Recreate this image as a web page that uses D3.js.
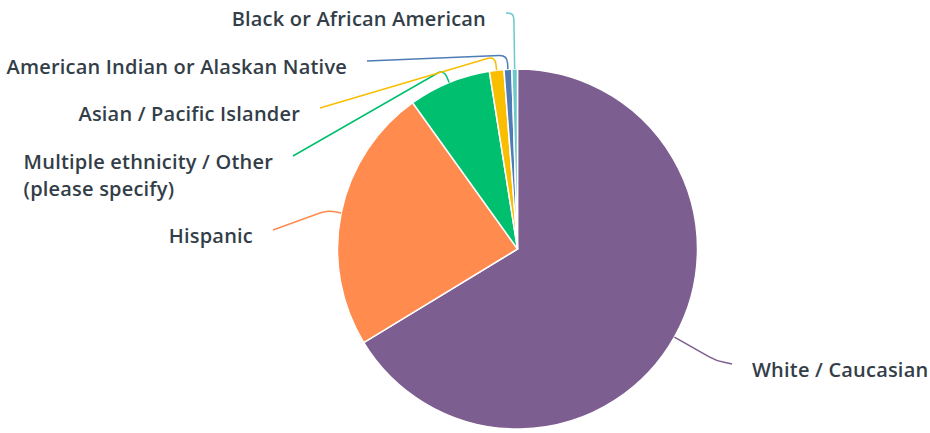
<!DOCTYPE html>
<html>
<head>
<meta charset="utf-8">
<script src="https://cdn.jsdelivr.net/npm/d3@7"></script>
<style>
  body { margin: 0; background: #fff; }
  .lbl { font-family: "Open Sans", sans-serif; font-weight: 600; font-size: 20px; letter-spacing: 0.2px; fill: #333e48; }
</style>
</head>
<body>
<div id="chart"></div>
<script>
// categories and shares (%), clockwise from 12 o'clock
var categories = ["White / Caucasian", "Hispanic", "Multiple ethnicity / Other\n(please specify)",
                  "Asian / Pacific Islander", "American Indian or Alaskan Native", "Black or African American"];
var values = [66.3, 23.8, 7.4, 1.3, 0.7, 0.5];
var colors = ["#7d5e90", "#ff8b4f", "#00bf6f", "#f9be00", "#507cb6", "#6bc8cd"];

var width = 930, height = 433;
var cx = 517.5, cy = 249, radius = 180;

// label placement (end of the leader line) and how far the leader goes out before it bends
var labelEnd = [[732, 364], [273, 230], [293, 156], [320, 108], [367, 61], [506, 13]];
var elbowOut = [48, 14, 14, 14, 14, 56];

const svg = d3.select("#chart").append("svg")
  .attr("width", width)
  .attr("height", height);

var pie = d3.pie().sort(null).value(function (d) { return d; });
var arcs = pie(values);

var arc = d3.arc().innerRadius(0).outerRadius(radius);

var g = svg.append("g").attr("transform", "translate(" + cx + "," + cy + ")");

g.selectAll("path.slice").data(arcs).enter().append("path")
  .attr("class", "slice")
  .attr("d", arc)
  .attr("fill", function (d, i) { return colors[i]; })
  .attr("stroke", "#fff")
  .attr("stroke-width", 1.5);

function polar(a, r) { return [cx + r * Math.sin(a), cy - r * Math.cos(a)]; }

// leader lines: radial stub, rounded corner, then straight to the label
function leader(d, i) {
  var mid = (d.startAngle + d.endAngle) / 2;
  var p0 = polar(mid, radius);
  var e = polar(mid, radius + elbowOut[i]);
  var p2 = labelEnd[i];
  var l1 = Math.hypot(p0[0] - e[0], p0[1] - e[1]);
  var l2 = Math.hypot(p2[0] - e[0], p2[1] - e[1]);
  var rc = Math.min(8, l1 * 0.6, l2 * 0.8);
  var a = [e[0] + (p0[0] - e[0]) / l1 * rc, e[1] + (p0[1] - e[1]) / l1 * rc];
  var b = [e[0] + (p2[0] - e[0]) / l2 * rc, e[1] + (p2[1] - e[1]) / l2 * rc];
  return "M" + p0 + "L" + a + "Q" + e + " " + b + "L" + p2;
}

svg.selectAll("path.leader").data(arcs).enter().append("path")
  .attr("class", "leader")
  .attr("d", leader)
  .attr("fill", "none")
  .attr("stroke", function (d, i) { return colors[i]; })
  .attr("stroke-width", 1.5);

// labels
var labels = svg.selectAll("text.lbl").data(arcs).enter().append("text")
  .attr("class", "lbl")
  .each(function (d, i) {
    var t = d3.select(this);
    var right = labelEnd[i][0] > cx;
    var x = right ? labelEnd[i][0] + 20 : labelEnd[i][0] - 20;
    var y = labelEnd[i][1] + 13;
    var lines = categories[i].split("\n");
    t.attr("text-anchor", right ? "start" : "end");
    lines.forEach(function (s, k) {
      t.append("tspan").attr("x", x).attr("y", y + k * 27).text(s);
    });
    if (lines.length > 1) {
      // block is right-aligned to the leader, but lines are left-aligned
      var w = d3.max(t.selectAll("tspan").nodes(), function (n) { return n.getComputedTextLength(); });
      t.attr("text-anchor", "start");
      t.selectAll("tspan").attr("x", x - w);
    }
  });
</script>
</body>
</html>
